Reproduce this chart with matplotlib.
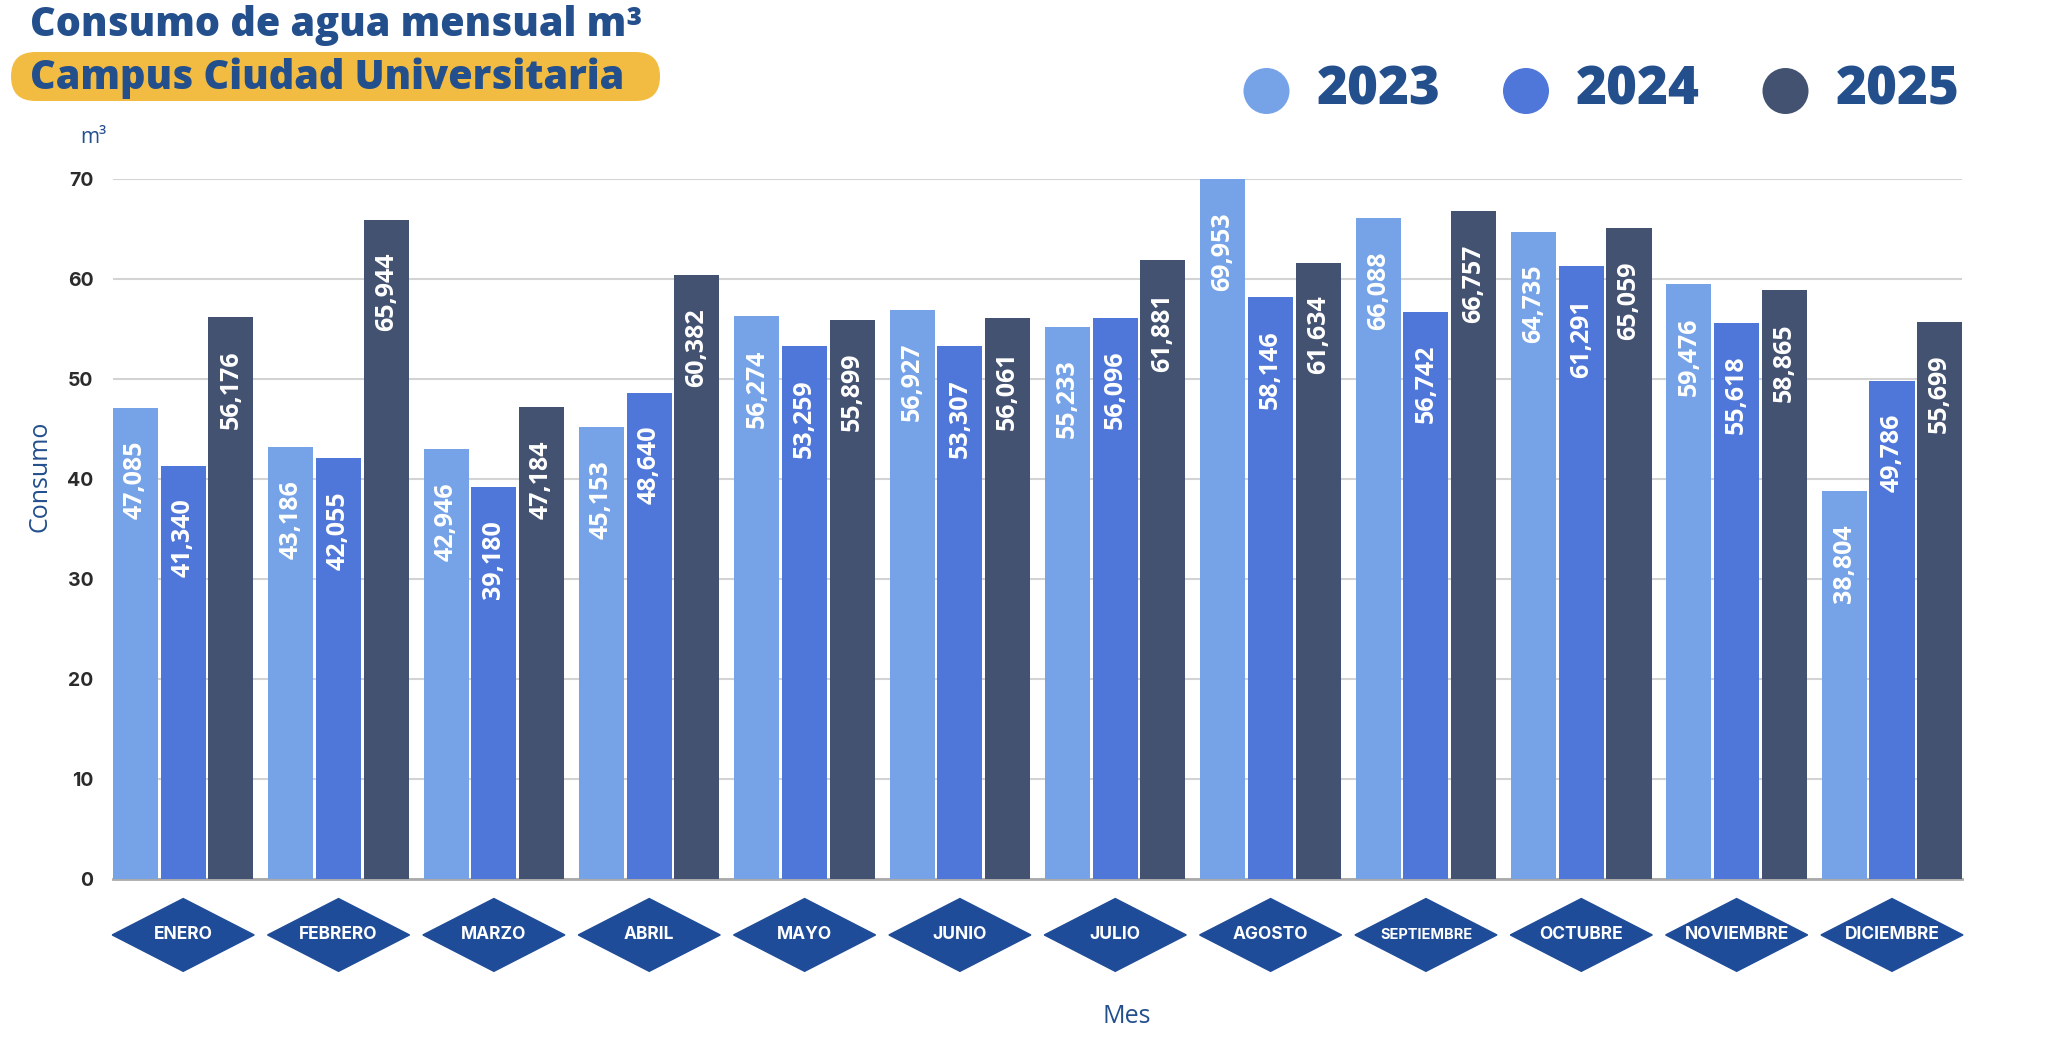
import numpy as np
import matplotlib
matplotlib.use("Agg")
import matplotlib.pyplot as plt
from matplotlib.patches import Polygon, FancyBboxPatch, Circle

meses = ["ENERO", "FEBRERO", "MARZO", "ABRIL", "MAYO", "JUNIO", "JULIO",
         "AGOSTO", "SEPTIEMBRE", "OCTUBRE", "NOVIEMBRE", "DICIEMBRE"]
anios = ["2023", "2024", "2025"]
v2023 = [47.085, 43.186, 42.946, 45.153, 56.274, 56.927, 55.233, 69.953, 66.088, 64.735, 59.476, 38.804]
v2024 = [41.340, 42.055, 39.180, 48.640, 53.259, 53.307, 56.096, 58.146, 56.742, 61.291, 55.618, 49.786]
v2025 = [56.176, 65.944, 47.184, 60.382, 55.899, 56.061, 61.881, 61.634, 66.757, 65.059, 58.865, 55.699]
yticks = [0, 10, 20, 30, 40, 50, 60, 70]

colores = ["#76A3E8", "#4F76D9", "#445272"]
azul = "#234F8D"
diamante = "#1F4C98"

plt.rcParams['font.family'] = ['Open Sans', 'DejaVu Sans']

W, H = 2052, 1052
fig = plt.figure(figsize=(W / 100, H / 100), dpi=100)
ax = fig.add_axes([0.0551, 0.1645, 0.9011, 0.6654])

x = np.arange(len(meses))
w = 0.29
step = 0.307
for i, (vals, col) in enumerate(zip([v2023, v2024, v2025], colores)):
    pos = x + (i - 1) * step
    ax.bar(pos, vals, width=w, color=col, zorder=3)
    for p, v in zip(pos, vals):
        ax.text(p, v - 3.3, f"{v:.3f}".replace(".", ","), rotation=90,
                ha="center", va="top", color="white", fontsize=18,
                fontweight="bold", zorder=4)

ax.set_xlim(-0.4515, 11.4515)
ax.set_ylim(0, 70)
ax.set_yticks(yticks)
ax.set_yticklabels([str(t) for t in yticks], fontsize=14, fontweight="bold", color="#2B2B2B",
                   family=['Inter', 'DejaVu Sans'])
ax.tick_params(axis="y", length=0, pad=14)
ax.set_xticks([])
ax.grid(axis="y", color="#D3D3D3", linewidth=1.5, zorder=0)
for s in ["top", "right", "left"]:
    ax.spines[s].set_visible(False)
ax.spines["bottom"].set_color("#AAAAAA")
ax.spines["bottom"].set_linewidth(2)

# diamantes con los meses
tr = ax.get_xaxis_transform()
hw = 0.457
hh = 0.052
cy = -0.080
for xi, m in zip(x, meses):
    ax.add_patch(Polygon([(xi - hw, cy), (xi, cy + hh), (xi + hw, cy), (xi, cy - hh)],
                         closed=True, color=diamante, transform=tr, clip_on=False))
    fs = 10.5 if len(m) > 9 else 12.5
    ax.text(xi, cy, m, transform=tr, ha="center", va="center", color="white",
            fontsize=fs, fontweight="bold", family=['Inter', 'DejaVu Sans'])

fig.text(0.0195, 0.547, "Consumo", color=azul, fontsize=18, rotation=90,
         ha="center", va="center")
fig.text(0.549, 0.034, "Mes", color=azul, fontsize=18, ha="center", va="center")
fig.text(0.039, 0.869, "m³", color=azul, fontsize=15, ha="left", va="center")

# capa superior en pixeles para titulo y leyenda
top = fig.add_axes([0, 0, 1, 1], zorder=5)
top.set_xlim(0, W)
top.set_ylim(H, 0)
top.axis("off")

top.text(30, 26, "Consumo de agua mensual m³", color=azul, fontsize=28.5,
         fontweight="heavy", ha="left", va="center")
top.add_patch(FancyBboxPatch((11, 52), 649, 49,
                             boxstyle="round,pad=0,rounding_size=24.5",
                             facecolor="#F2BC42", edgecolor="none"))
top.text(30, 78, "Campus Ciudad Universitaria", color=azul, fontsize=28.5,
         fontweight="heavy", ha="left", va="center")

circ_x = [1266.5, 1526, 1785.5]
for cx, anio, col in zip(circ_x, anios, colores):
    top.add_patch(Circle((cx, 91), 23, facecolor=col, edgecolor="none"))
    top.text(cx + 50, 91, anio, color=azul, fontsize=38, fontweight="heavy",
             ha="left", va="center")

fig.savefig("out.png", dpi=100, facecolor="white")
